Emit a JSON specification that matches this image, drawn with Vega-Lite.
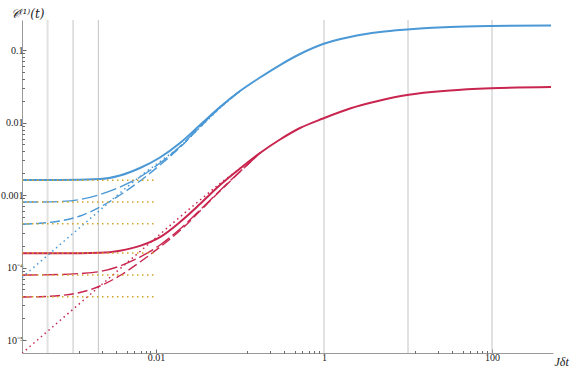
{
 "$schema": "https://vega.github.io/schema/vega-lite/v6.json",
 "width": 531, "height": 333,
 "autosize": "none",
 "padding": {"left": 22, "top": 20, "right": 28, "bottom": 15},
 "background": "white",
 "config": {"view": {"stroke": null}, "font": "Liberation Serif"},
 "datasets": {
  "gridA": [{"t": 0.000512}, {"t": 1}],
  "gridB": [{"t": 0.00103}, {"t": 0.00206}, {"t": 10}, {"t": 100}],
  "plateau": [
   {"lv": "b1", "t": 0.000254, "c": 0.0016}, {"lv": "b1", "t": 0.0095, "c": 0.0016},
   {"lv": "b2", "t": 0.000254, "c": 0.0008}, {"lv": "b2", "t": 0.0095, "c": 0.0008},
   {"lv": "b3", "t": 0.000254, "c": 0.0004}, {"lv": "b3", "t": 0.0095, "c": 0.0004},
   {"lv": "r1", "t": 0.000254, "c": 0.000158}, {"lv": "r1", "t": 0.0095, "c": 0.000158},
   {"lv": "r2", "t": 0.000254, "c": 0.000079}, {"lv": "r2", "t": 0.0095, "c": 0.000079},
   {"lv": "r3", "t": 0.000254, "c": 0.0000395}, {"lv": "r3", "t": 0.0095, "c": 0.0000395}
  ],
  "curves": [
   {"f": "b", "k": "solid", "t": 0.000254, "c": 0.00161},
   {"f": "b", "k": "solid", "t": 0.00072, "c": 0.00161},
   {"f": "b", "k": "solid", "t": 0.002154, "c": 0.001662},
   {"f": "b", "k": "solid", "t": 0.003728, "c": 0.001858},
   {"f": "b", "k": "solid", "t": 0.006449, "c": 0.002358},
   {"f": "b", "k": "solid", "t": 0.01116, "c": 0.00329},
   {"f": "b", "k": "solid", "t": 0.01931, "c": 0.005215},
   {"f": "b", "k": "solid", "t": 0.03341, "c": 0.009237},
   {"f": "b", "k": "solid", "t": 0.05779, "c": 0.01636},
   {"f": "b", "k": "solid", "t": 0.1, "c": 0.02719},
   {"f": "b", "k": "solid", "t": 0.173, "c": 0.04176},
   {"f": "b", "k": "solid", "t": 0.2994, "c": 0.06208},
   {"f": "b", "k": "solid", "t": 0.5179, "c": 0.08807},
   {"f": "b", "k": "solid", "t": 0.973, "c": 0.121},
   {"f": "b", "k": "solid", "t": 2.039, "c": 0.1511},
   {"f": "b", "k": "solid", "t": 4.642, "c": 0.1771},
   {"f": "b", "k": "solid", "t": 9.73, "c": 0.1918},
   {"f": "b", "k": "solid", "t": 31.62, "c": 0.2076},
   {"f": "b", "k": "solid", "t": 97.3, "c": 0.2143},
   {"f": "b", "k": "solid", "t": 504, "c": 0.2178},

   {"f": "b", "k": "d1", "t": 0.000254, "c": 0.0008004},
   {"f": "b", "k": "d1", "t": 0.000416, "c": 0.0008004},
   {"f": "b", "k": "d1", "t": 0.00072, "c": 0.0008132},
   {"f": "b", "k": "d1", "t": 0.001245, "c": 0.0008667},
   {"f": "b", "k": "d1", "t": 0.002154, "c": 0.001016},
   {"f": "b", "k": "d1", "t": 0.003728, "c": 0.001289},
   {"f": "b", "k": "d1", "t": 0.006449, "c": 0.001771},
   {"f": "b", "k": "d1", "t": 0.01116, "c": 0.002763},
   {"f": "b", "k": "d1", "t": 0.01931, "c": 0.004667},
   {"f": "b", "k": "d1", "t": 0.03341, "c": 0.008807},
   {"f": "b", "k": "d1", "t": 0.05779, "c": 0.0161},
   {"f": "b", "k": "d1", "t": 0.1, "c": 0.02719},

   {"f": "b", "k": "d2", "t": 0.000254, "c": 0.0003981},
   {"f": "b", "k": "d2", "t": 0.000416, "c": 0.0004083},
   {"f": "b", "k": "d2", "t": 0.00072, "c": 0.000438},
   {"f": "b", "k": "d2", "t": 0.001245, "c": 0.0005133},
   {"f": "b", "k": "d2", "t": 0.002154, "c": 0.0006832},
   {"f": "b", "k": "d2", "t": 0.003728, "c": 0.001},
   {"f": "b", "k": "d2", "t": 0.006449, "c": 0.00156},
   {"f": "b", "k": "d2", "t": 0.01116, "c": 0.002594},
   {"f": "b", "k": "d2", "t": 0.01931, "c": 0.00452},
   {"f": "b", "k": "d2", "t": 0.03341, "c": 0.008667},
   {"f": "b", "k": "d2", "t": 0.05779, "c": 0.016},
   {"f": "b", "k": "d2", "t": 0.1, "c": 0.02719},

   {"f": "b", "k": "dot", "t": 0.000254, "c": 0.0000729},
   {"f": "b", "k": "dot", "t": 0.000416, "c": 0.0001194},
   {"f": "b", "k": "dot", "t": 0.00072, "c": 0.0002066},
   {"f": "b", "k": "dot", "t": 0.001245, "c": 0.0003573},
   {"f": "b", "k": "dot", "t": 0.002154, "c": 0.0006182},
   {"f": "b", "k": "dot", "t": 0.003728, "c": 0.00107},
   {"f": "b", "k": "dot", "t": 0.006449, "c": 0.0018},
   {"f": "b", "k": "dot", "t": 0.01116, "c": 0.002897},
   {"f": "b", "k": "dot", "t": 0.01931, "c": 0.004667},
   {"f": "b", "k": "dot", "t": 0.03341, "c": 0.008531},
   {"f": "b", "k": "dot", "t": 0.05779, "c": 0.01585},
   {"f": "b", "k": "dot", "t": 0.1, "c": 0.02719},

   {"f": "r", "k": "solid", "t": 0.000254, "c": 0.000157},
   {"f": "r", "k": "solid", "t": 0.00072, "c": 0.000157},
   {"f": "r", "k": "solid", "t": 0.002154, "c": 0.0001598},
   {"f": "r", "k": "solid", "t": 0.003728, "c": 0.0001705},
   {"f": "r", "k": "solid", "t": 0.006449, "c": 0.0001985},
   {"f": "r", "k": "solid", "t": 0.01116, "c": 0.000262},
   {"f": "r", "k": "solid", "t": 0.01931, "c": 0.000424},
   {"f": "r", "k": "solid", "t": 0.03341, "c": 0.0007508},
   {"f": "r", "k": "solid", "t": 0.05779, "c": 0.001373},
   {"f": "r", "k": "solid", "t": 0.1, "c": 0.00232},
   {"f": "r", "k": "solid", "t": 0.173, "c": 0.003795},
   {"f": "r", "k": "solid", "t": 0.2994, "c": 0.005828},
   {"f": "r", "k": "solid", "t": 0.5179, "c": 0.008397},
   {"f": "r", "k": "solid", "t": 0.973, "c": 0.01136},
   {"f": "r", "k": "solid", "t": 2.039, "c": 0.0156},
   {"f": "r", "k": "solid", "t": 4.642, "c": 0.02011},
   {"f": "r", "k": "solid", "t": 9.73, "c": 0.02394},
   {"f": "r", "k": "solid", "t": 31.62, "c": 0.02763},
   {"f": "r", "k": "solid", "t": 97.3, "c": 0.02962},
   {"f": "r", "k": "solid", "t": 504, "c": 0.03089},

   {"f": "r", "k": "d1", "t": 0.000254, "c": 0.0000788},
   {"f": "r", "k": "d1", "t": 0.00072, "c": 0.00008004},
   {"f": "r", "k": "d1", "t": 0.001245, "c": 0.00008262},
   {"f": "r", "k": "d1", "t": 0.002154, "c": 0.00008807},
   {"f": "r", "k": "d1", "t": 0.003728, "c": 0.0001049},
   {"f": "r", "k": "d1", "t": 0.006449, "c": 0.0001396},
   {"f": "r", "k": "d1", "t": 0.01116, "c": 0.0002043},
   {"f": "r", "k": "d1", "t": 0.01931, "c": 0.0003396},
   {"f": "r", "k": "d1", "t": 0.03341, "c": 0.000621},
   {"f": "r", "k": "d1", "t": 0.05779, "c": 0.001153},
   {"f": "r", "k": "d1", "t": 0.1, "c": 0.002109},
   {"f": "r", "k": "d1", "t": 0.173, "c": 0.003795},

   {"f": "r", "k": "d2", "t": 0.000254, "c": 0.00003917},
   {"f": "r", "k": "d2", "t": 0.000416, "c": 0.00003955},
   {"f": "r", "k": "d2", "t": 0.00072, "c": 0.00004109},
   {"f": "r", "k": "d2", "t": 0.001245, "c": 0.0000452},
   {"f": "r", "k": "d2", "t": 0.002154, "c": 0.00005557},
   {"f": "r", "k": "d2", "t": 0.003728, "c": 0.00007757},
   {"f": "r", "k": "d2", "t": 0.006449, "c": 0.0001191},
   {"f": "r", "k": "d2", "t": 0.01116, "c": 0.0001918},
   {"f": "r", "k": "d2", "t": 0.01931, "c": 0.0003237},
   {"f": "r", "k": "d2", "t": 0.03341, "c": 0.0006015},
   {"f": "r", "k": "d2", "t": 0.05779, "c": 0.001136},
   {"f": "r", "k": "d2", "t": 0.1, "c": 0.002089},
   {"f": "r", "k": "d2", "t": 0.173, "c": 0.003795},

   {"f": "r", "k": "dot", "t": 0.000254, "c": 0.00000655},
   {"f": "r", "k": "dot", "t": 0.000416, "c": 0.00001073},
   {"f": "r", "k": "dot", "t": 0.00072, "c": 0.00001857},
   {"f": "r", "k": "dot", "t": 0.001245, "c": 0.00003212},
   {"f": "r", "k": "dot", "t": 0.002154, "c": 0.00005557},
   {"f": "r", "k": "dot", "t": 0.003728, "c": 0.00009618},
   {"f": "r", "k": "dot", "t": 0.006449, "c": 0.0001664},
   {"f": "r", "k": "dot", "t": 0.01116, "c": 0.0002879},
   {"f": "r", "k": "dot", "t": 0.01931, "c": 0.0004982},
   {"f": "r", "k": "dot", "t": 0.03341, "c": 0.00085},
   {"f": "r", "k": "dot", "t": 0.05779, "c": 0.00144},
   {"f": "r", "k": "dot", "t": 0.1, "c": 0.00232},
   {"f": "r", "k": "dot", "t": 0.173, "c": 0.003795}
  ]
 },
 "resolve": {"axis": {"x": "independent", "y": "independent"}},
 "layer": [
  {
   "data": {"name": "gridA"},
   "mark": {"type": "rule", "stroke": "#e2e2e2", "strokeWidth": 2},
   "encoding": {
    "x": {"field": "t", "type": "quantitative",
          "scale": {"type": "log", "domain": [0.000254, 532], "nice": false},
          "axis": {"orient": "bottom", "values": [0.01, 1, 100], "grid": false,
                   "labelExpr": "datum.value < 0.05 ? '0.01' : (datum.value < 5 ? '1' : '100')",
                   "labelFont": "Liberation Serif", "labelFontSize": 10, "labelColor": "#222",
                   "labelPadding": 3, "tickSize": -4, "tickColor": "#444", "tickWidth": 0.8,
                   "domainColor": "#999", "domainWidth": 1, "title": "Jδt",
                   "titleFont": "Liberation Serif", "titleFontStyle": "italic", "titleFontWeight": "normal",
                   "titleFontSize": 12, "titleColor": "#222", "titleX": 532, "titleY": 12,
                   "titleAlign": "left", "titleBaseline": "alphabetic", "titleAnchor": null}}
   }
  },
  {
   "data": {"name": "gridB"},
   "mark": {"type": "rule", "stroke": "#c4c4c4", "strokeWidth": 1},
   "encoding": {
    "x": {"field": "t", "type": "quantitative",
          "scale": {"type": "log", "domain": [0.000254, 532], "nice": false},
          "axis": {"orient": "bottom", "labels": false, "domain": false, "grid": false, "title": null,
                   "values": [0.0012, 0.0023, 0.0033, 0.0045, 0.0055, 0.0066, 0.0076, 0.0086, 0.12, 0.23, 0.33, 0.45, 0.55, 0.66, 0.76, 0.86, 12, 23, 33, 45, 55, 66, 76, 86],
                   "tickSize": -2.5, "tickColor": "#444", "tickWidth": 0.8}}
   }
  },
  {
   "data": {"name": "curves"},
   "transform": [{"filter": "datum.k == 'solid'"}],
   "mark": {"type": "line", "strokeWidth": 2, "interpolate": "monotone", "clip": true},
   "encoding": {
    "x": {"field": "t", "type": "quantitative", "scale": {"type": "log", "domain": [0.000254, 532], "nice": false}, "axis": null},
    "y": {"field": "c", "type": "quantitative",
          "scale": {"type": "log", "domain": [0.00000662, 0.2594], "nice": false},
          "axis": {"orient": "left", "values": [0.00001, 0.0001, 0.001, 0.01, 0.1], "grid": false,
                   "labelExpr": "datum.value > 0.05 ? '0.1' : datum.value > 0.005 ? '0.01' : datum.value > 0.0005 ? '0.001' : datum.value > 0.00005 ? '10⁻⁴' : '10⁻⁵'",
                   "labelFont": "Liberation Serif", "labelFontSize": 10, "labelColor": "#222",
                   "labelPadding": 3, "tickSize": -4, "tickColor": "#444", "tickWidth": 0.8,
                   "domainColor": "#999", "domainWidth": 1,
                   "title": "𝒞⁽¹⁾(t)", "titleFont": "DejaVu Serif", "titleFontStyle": "italic", "titleFontWeight": "normal",
                   "titleFontSize": 12, "titleColor": "#222", "titleAngle": 0, "titleX": -12, "titleY": -3,
                   "titleAlign": "left", "titleBaseline": "alphabetic", "titleAnchor": null}},
    "color": {"field": "f", "type": "nominal", "scale": {"domain": ["b", "r"], "range": ["#4a98d6", "#c8254f"]}, "legend": null},
    "detail": {"field": "f"}
   }
  },
  {
   "data": {"name": "curves"},
   "transform": [{"filter": "datum.k == 'd1'"}],
   "mark": {"type": "line", "strokeWidth": 1.4, "strokeDash": [16, 4], "interpolate": "monotone", "clip": true},
   "encoding": {
    "x": {"field": "t", "type": "quantitative", "scale": {"type": "log", "domain": [0.000254, 532], "nice": false}, "axis": null},
    "y": {"field": "c", "type": "quantitative", "scale": {"type": "log", "domain": [0.00000662, 0.2594], "nice": false},
          "axis": {"orient": "left", "labels": false, "domain": false, "grid": false, "title": null,
                   "values": [0.00002, 0.00003, 0.00004, 0.00005, 0.00006, 0.00007, 0.00008, 0.00009, 0.0002, 0.0003, 0.0004, 0.0005, 0.0006, 0.0007, 0.0008, 0.0009, 0.002, 0.003, 0.004, 0.005, 0.006, 0.007, 0.008, 0.009, 0.02, 0.03, 0.04, 0.05, 0.06, 0.07, 0.08, 0.09],
                   "tickSize": -2.5, "tickColor": "#444", "tickWidth": 0.8}},
    "color": {"field": "f", "type": "nominal", "scale": {"domain": ["b", "r"], "range": ["#4a98d6", "#c8254f"]}, "legend": null},
    "detail": {"field": "f"}
   }
  },
  {
   "data": {"name": "curves"},
   "transform": [{"filter": "datum.k == 'd2'"}],
   "mark": {"type": "line", "strokeWidth": 1.4, "strokeDash": [10, 4], "interpolate": "monotone", "clip": true},
   "encoding": {
    "x": {"field": "t", "type": "quantitative", "scale": {"type": "log", "domain": [0.000254, 532], "nice": false}, "axis": null},
    "y": {"field": "c", "type": "quantitative", "scale": {"type": "log", "domain": [0.00000662, 0.2594], "nice": false}, "axis": null},
    "color": {"field": "f", "type": "nominal", "scale": {"domain": ["b", "r"], "range": ["#4a98d6", "#c8254f"]}, "legend": null},
    "detail": {"field": "f"}
   }
  },
  {
   "data": {"name": "curves"},
   "transform": [{"filter": "datum.k == 'dot'"}],
   "mark": {"type": "line", "strokeWidth": 1.5, "strokeDash": [1.5, 3.5], "interpolate": "monotone", "clip": true},
   "encoding": {
    "x": {"field": "t", "type": "quantitative", "scale": {"type": "log", "domain": [0.000254, 532], "nice": false}, "axis": null},
    "y": {"field": "c", "type": "quantitative", "scale": {"type": "log", "domain": [0.00000662, 0.2594], "nice": false}, "axis": null},
    "color": {"field": "f", "type": "nominal", "scale": {"domain": ["b", "r"], "range": ["#4a98d6", "#c8254f"]}, "legend": null},
    "detail": {"field": "f"}
   }
  },
  {
   "data": {"name": "plateau"},
   "mark": {"type": "line", "stroke": "#d4a52a", "strokeWidth": 1.5, "strokeDash": [1.5, 3.5], "clip": true},
   "encoding": {
    "x": {"field": "t", "type": "quantitative", "scale": {"type": "log", "domain": [0.000254, 532], "nice": false}, "axis": null},
    "y": {"field": "c", "type": "quantitative", "scale": {"type": "log", "domain": [0.00000662, 0.2594], "nice": false}, "axis": null},
    "detail": {"field": "lv"}
   }
  }
 ]
}
